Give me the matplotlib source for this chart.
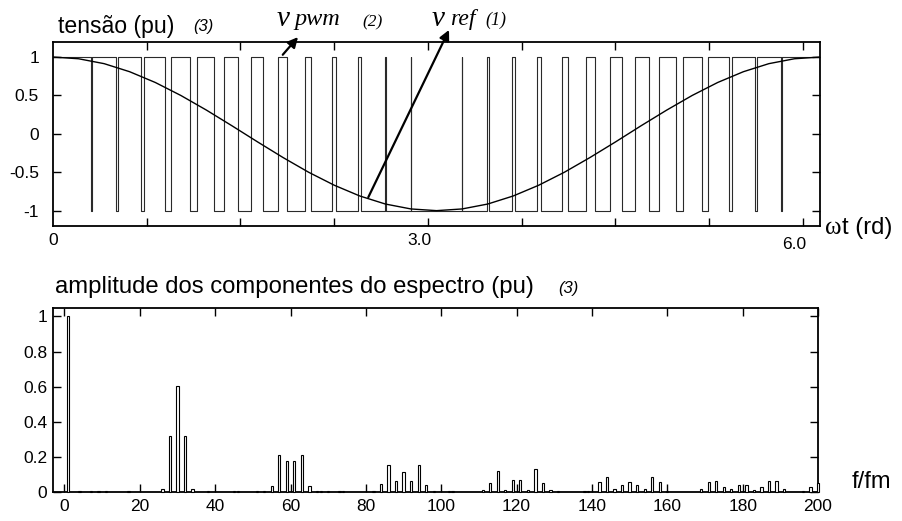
import matplotlib
matplotlib.use("Agg")
import matplotlib.pyplot as plt

plt.rcParams['font.family'] = ['Liberation Sans', 'DejaVu Sans']
plt.rcParams['axes.unicode_minus'] = False

# ---------------- data: time waveform ----------------
# reference (modulating) signal, sampled
wt_ref = [0.0, 0.209, 0.419, 0.628, 0.838, 1.047, 1.257, 1.466, 1.676, 1.885,
          2.094, 2.304, 2.513, 2.723, 2.932, 3.142, 3.351, 3.561, 3.770, 3.979,
          4.189, 4.398, 4.608, 4.817, 5.027, 5.236, 5.445, 5.655, 5.864, 6.074, 6.283]
v_ref = [1.0, 0.978, 0.914, 0.809, 0.669, 0.5, 0.309, 0.105, -0.105, -0.309,
         -0.5, -0.669, -0.809, -0.914, -0.978, -1.0, -0.978, -0.914, -0.809, -0.669,
         -0.5, -0.309, -0.105, 0.105, 0.309, 0.5, 0.669, 0.809, 0.914, 0.978, 1.0]

# PWM: intervals where the output is at -1 (otherwise +1)
low_start = [0.3116, 0.5166, 0.7196, 0.9209, 1.1209, 1.3199, 1.5184, 1.7170, 1.9160,
             2.1160, 2.3173, 2.5203, 2.7253, 2.9324, 3.3536, 3.5675, 3.7834, 4.0009,
             4.2199, 4.4397, 4.6600, 4.8804, 5.1002, 5.3191, 5.5367, 5.7526, 5.9665]
low_end = [0.3167, 0.5306, 0.7465, 0.9641, 1.1830, 1.4028, 1.6232, 1.8435, 2.0633,
           2.2823, 2.4998, 2.7157, 2.9296, 3.3507, 3.5579, 3.7629, 3.9659, 4.1672,
           4.3672, 4.5662, 4.7648, 4.9633, 5.1623, 5.3623, 5.5636, 5.7666, 5.9716]
wt_end = 6.283

wt_ticks = [0.768, 1.535, 2.303, 3.070, 3.838, 4.605, 5.373, 6.140]
wt_label_pos = [0.0, 3.0, 6.07]
wt_labels = ["0", "3.0", "6.0"]
v_ticks = [-1, -0.5, 0, 0.5, 1]
v_ticklabels = ["-1", "-0.5", "0", "0.5", "1"]

# ---------------- data: spectrum ----------------
harm = [1, 4, 7, 9, 11, 17, 26, 28, 30, 32, 34, 38, 45, 46, 51, 53,
        55, 57, 59, 61, 63, 65, 67, 68, 70, 73, 74,
        82, 84, 86, 88, 90, 92, 94, 96, 98, 102, 103,
        111, 113, 115, 117, 119, 121, 123, 125, 127, 129, 131, 138, 139,
        142, 144, 146, 148, 150, 152, 154, 156, 158, 160,
        169, 171, 173, 175, 177, 179, 181, 183, 185, 187, 189, 191, 196, 198, 200]
amp = [1.0, 0.004, 0.003, 0.004, 0.004, 0.004, 0.016, 0.318, 0.604, 0.316, 0.016,
       0.004, 0.004, 0.004, 0.004, 0.004,
       0.034, 0.210, 0.178, 0.178, 0.212, 0.034, 0.004, 0.003, 0.004, 0.004, 0.004,
       0.006, 0.042, 0.154, 0.061, 0.111, 0.059, 0.154, 0.036, 0.005, 0.004, 0.004,
       0.010, 0.048, 0.116, 0.010, 0.067, 0.067, 0.010, 0.128, 0.048, 0.010, 0.004,
       0.005, 0.005,
       0.054, 0.086, 0.015, 0.038, 0.055, 0.038, 0.015, 0.086, 0.055, 0.006,
       0.015, 0.054, 0.059, 0.025, 0.015, 0.038, 0.038, 0.010, 0.027, 0.059, 0.059,
       0.015, 0.005, 0.025, 0.051]
f_ticks = [0, 20, 40, 60, 80, 100, 120, 140, 160, 180, 200]
a_ticks = [0, 0.2, 0.4, 0.6, 0.8, 1.0]
a_ticklabels = ["0", "0.2", "0.4", "0.6", "0.8", "1"]

W, H = 902, 521
fig = plt.figure(figsize=(W / 100, H / 100), dpi=100)


def fx(px):
    return px / W


def fy(py):
    return 1 - py / H


TICK_FS = 12.5

# ---------------- top axes ----------------
ax1 = fig.add_axes([fx(53), fy(226), (820 - 53) / W, (226 - 41.7) / H])
xs = [0.0]
ys = [1.0]
for a, b in zip(low_start, low_end):
    xs += [a, a, b, b]
    ys += [1.0, -1.0, -1.0, 1.0]
xs.append(wt_end)
ys.append(1.0)
ax1.plot(xs, ys, color='#2a2a2a', lw=0.8)
ax1.plot(wt_ref, v_ref, color='black', lw=1.0)
ax1.set_xlim(0, wt_end)
ax1.set_ylim(-1.2, 1.2)
ax1.set_xticks(wt_ticks)
ax1.set_xticklabels([])
ax1.set_yticks(v_ticks)
ax1.set_yticklabels(v_ticklabels)
ax1.tick_params(direction='in', top=True, right=True, length=6, width=1.0,
                labelsize=TICK_FS)
ax1.tick_params(axis='y', pad=10)
for s in ax1.spines.values():
    s.set_linewidth(1.3)
for pos, lab in zip(wt_label_pos, wt_labels):
    yoff = -0.081 if lab != "6.0" else -0.103
    ax1.text(pos, yoff, lab, transform=ax1.get_xaxis_transform(),
             ha='center', va='center', fontsize=TICK_FS)

# arrows
ax1.annotate('', xy=(2.007, 1.26), xytext=(1.882, 1.03),
             arrowprops=dict(arrowstyle='-|>,head_length=0.6,head_width=0.3',
                             color='black', lw=1.6, shrinkA=0, shrinkB=0),
             annotation_clip=False)
ax1.annotate('', xy=(3.244, 1.353), xytext=(2.583, -0.825),
             arrowprops=dict(arrowstyle='-|>,head_length=0.6,head_width=0.3',
                             color='black', lw=1.6, shrinkA=0, shrinkB=0),
             annotation_clip=False)

# texts top
fig.text(fx(58), fy(26), "tensão (pu)", fontsize=16.6, ha='left', va='center')
fig.text(fx(193), fy(27), "(3)", fontsize=12, style='italic', ha='left', va='center')
fig.text(fx(277), fy(19), "v", fontsize=21, family='Liberation Serif',
         style='italic', ha='left', va='center')
fig.text(fx(294), fy(19), "pwm", fontsize=17.5, family='Liberation Serif',
         style='italic', ha='left', va='center')
fig.text(fx(362), fy(22), "(2)", fontsize=12.5, family='Liberation Serif',
         style='italic', ha='left', va='center')
fig.text(fx(432), fy(19), "v", fontsize=21, family='Liberation Serif',
         style='italic', ha='left', va='center')
fig.text(fx(450), fy(19), "ref", fontsize=17, family='Liberation Serif',
         style='italic', ha='left', va='center')
fig.text(fx(485), fy(20), "(1)", fontsize=13, family='Liberation Serif',
         style='italic', ha='left', va='center')
fig.text(fx(825), fy(228), "ω", fontsize=18, family='Liberation Serif',
         ha='left', va='center')
fig.text(fx(842), fy(228), "t (rd)", fontsize=17, ha='left', va='center')

# ---------------- bottom axes ----------------
ax2 = fig.add_axes([fx(53), fy(491.7), (818 - 53) / W, (491.7 - 307.7) / H])
ax2.bar(harm, amp, width=0.6, facecolor='white', edgecolor='black',
        linewidth=0.8, clip_on=False, zorder=3)
ax2.set_xlim(-3.05, 199.6)
ax2.set_ylim(0, 1.05)
ax2.set_xticks(f_ticks)
ax2.set_xticklabels([str(v) for v in f_ticks])
ax2.set_yticks(a_ticks)
ax2.set_yticklabels(a_ticklabels)
ax2.tick_params(direction='in', top=True, right=True, length=6, width=1.0,
                labelsize=TICK_FS)
ax2.tick_params(axis='y', pad=4)
ax2.tick_params(axis='x', pad=5)
for s in ax2.spines.values():
    s.set_linewidth(1.3)

fig.text(fx(55), fy(287), "amplitude dos componentes do espectro (pu)",
         fontsize=17.2, ha='left', va='center')
fig.text(fx(558), fy(289), "(3)", fontsize=12, style='italic', ha='left', va='center')
fig.text(fx(852), fy(482), "f/fm", fontsize=17, ha='left', va='center')

fig.savefig("out.png", dpi=100)
